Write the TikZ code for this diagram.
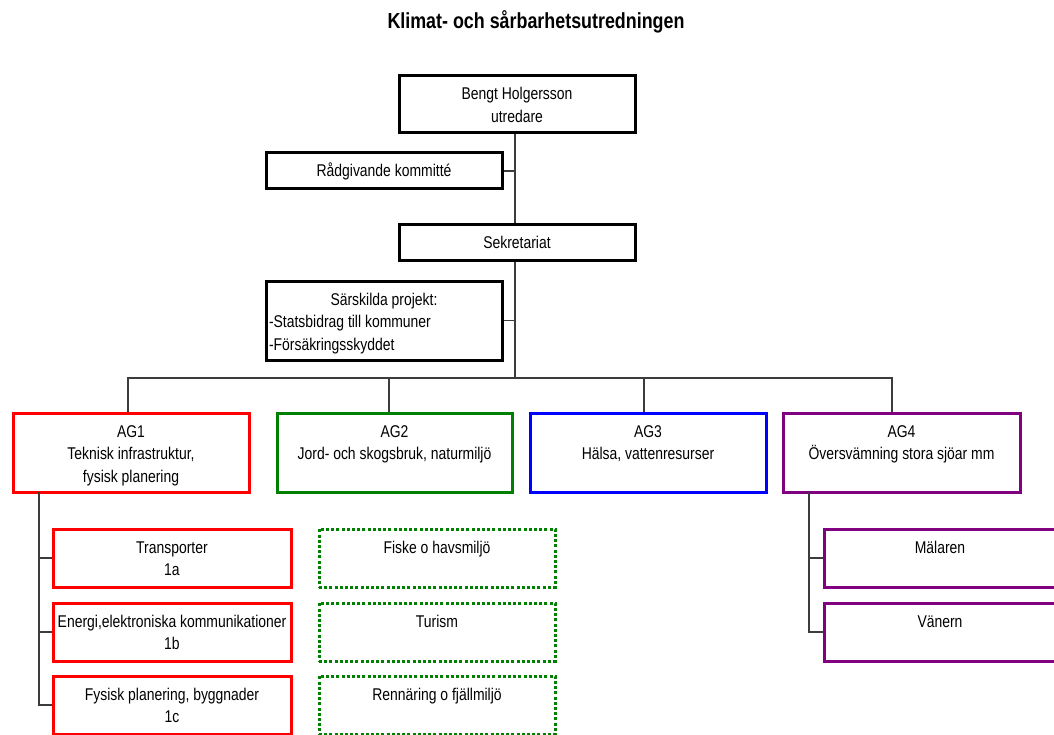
\documentclass[tikz,border=0pt]{standalone}
\usepackage{fontspec}
\setmainfont[FakeStretch=0.82]{Liberation Sans}
\definecolor{agred}{RGB}{255,0,0}
\definecolor{aggreen}{RGB}{0,128,0}
\definecolor{agblue}{RGB}{0,0,255}
\definecolor{agpurple}{RGB}{128,0,128}
\definecolor{conn}{RGB}{60,60,60}
\newcommand\bxt[3]{\parbox[c][#1][t]{#2}{\centering\rule{0pt}{24pt}#3\par}}
\tikzset{
  bxs/.style={draw, line width=3pt, inner sep=0pt, anchor=north west, fill=white},
  dashbox/.style={bxs, draw=aggreen, dash pattern=on 3pt off 2.2pt},
  link/.style={draw=conn, line width=1.3pt},
}
\begin{document}
\begin{tikzpicture}[x=1pt,y=-1pt,font=\fontsize{17}{22.5}\selectfont]
\useasboundingbox (0,0) rectangle (1054,735);
\clip (0,0) rectangle (1054,735);
\fill[white] (0,0) rectangle (1054,735);
\node[font=\bfseries\fontsize{21.8}{25}\selectfont] (title) at (536,22) {Klimat- och sårbarhetsutredningen};
% top part
\node[bxs] (bengt) at (397.5,74.5) {\bxt{57pt}{236pt}{Bengt Holgersson\\utredare}};
\node[bxs] (rad) at (264.5,151.5) {\bxt{36pt}{236pt}{Rådgivande kommitté}};
\node[bxs] (sek) at (397.5,223.5) {\bxt{36pt}{236pt}{Sekretariat}};
\node[bxs] (sarsk) at (264.5,279.5) {\parbox[c][79pt][t]{236pt}{\centering\rule{0pt}{24pt}Särskilda projekt:\par\raggedright\leftskip=3pt -Statsbidrag till kommuner\\-Försäkringsskyddet\par}};
% AG boxes
\node[bxs, draw=agred] (ag1) at (11.5,411.5) {\bxt{79pt}{236pt}{AG1\\Teknisk infrastruktur,\\fysisk planering}};
\node[bxs, draw=aggreen] (ag2) at (275.5,411.5) {\bxt{79pt}{235pt}{AG2\\Jord- och skogsbruk, naturmiljö}};
\node[bxs, draw=agblue] (ag3) at (528.5,411.5) {\bxt{79pt}{236pt}{AG3\\Hälsa, vattenresurser}};
\node[bxs, draw=agpurple] (ag4) at (781.5,411.5) {\bxt{79pt}{237pt}{AG4\\Översvämning stora sjöar mm}};
% AG1 children
\node[bxs, draw=agred] (trans) at (51.5,527.5) {\bxt{58pt}{238pt}{Transporter\\1a}};
\node[bxs, draw=agred] (energi) at (51.5,601.5) {\bxt{58pt}{238pt}{Energi,elektroniska kommunikationer\\1b}};
\node[bxs, draw=agred] (fysisk) at (51.5,674.5) {\bxt{58pt}{238pt}{Fysisk planering, byggnader\\1c}};
% AG2 children
\node[dashbox] (fiske) at (317.5,527.5) {\bxt{58pt}{236pt}{Fiske o havsmiljö}};
\node[dashbox] (turism) at (317.5,601.5) {\bxt{58pt}{236pt}{Turism}};
\node[dashbox] (renn) at (317.5,674.5) {\bxt{58pt}{236pt}{Rennäring o fjällmiljö}};
% AG4 children
\node[bxs, draw=agpurple] (malaren) at (822.5,527.5) {\bxt{58pt}{320pt}{\hspace*{-88pt}Mälaren}};
\node[bxs, draw=agpurple] (vanern) at (822.5,601.5) {\bxt{58pt}{320pt}{\hspace*{-88pt}Vänern}};
% connectors
\coordinate (bus) at (515,378);
\coordinate (t1) at (39,492);
\coordinate (t4) at (809,492);
\draw[link] (bengt.south -| bus) -- (sek.north -| bus);
\draw[link] (rad.east) -- (rad.east -| bus);
\draw[link] (sek.south -| bus) -- (bus);
\draw[link] (sarsk.east) -- (sarsk.east -| bus);
\draw[link] (ag1.north -| 128,0) |- (bus) -| (ag4.north -| 892,0);
\draw[link] (ag2.north -| 389,0) -- (bus -| 389,0);
\draw[link] (ag3.north -| 644,0) -- (bus -| 644,0);
\draw[link] (t1) |- (fysisk.west);
\draw[link] (t1 |- trans.west) -- (trans.west);
\draw[link] (t1 |- energi.west) -- (energi.west);
\draw[link] (t4) |- (vanern.west);
\draw[link] (t4 |- malaren.west) -- (malaren.west);
\end{tikzpicture}
\end{document}
